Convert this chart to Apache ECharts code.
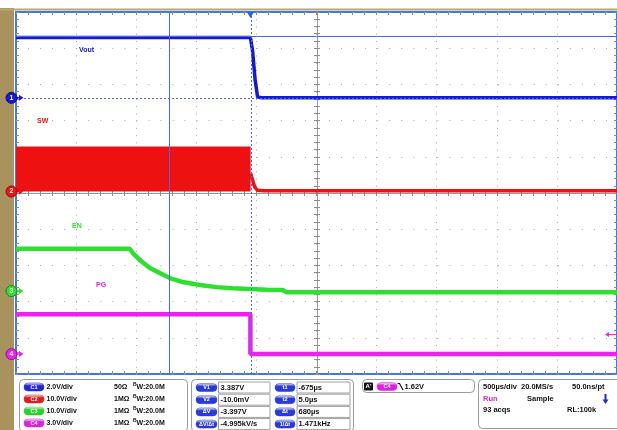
<!DOCTYPE html>
<html><head><meta charset="utf-8">
<script src="https://cdn.jsdelivr.net/npm/echarts@6/dist/echarts.min.js"></script>
<style>html,body{margin:0;padding:0;background:#fff}#c{width:617px;height:430px}</style>
</head><body><div id="c"></div>
<script>
// ---------------- data (time in µs from left screen edge, values in volts) ----------------
const timeRangeUs = [0, 5000];
const usPerDiv = 500;
const triggerUs = 1950;
const cursorT1Us = 1275;   // t1 = -675µs
const cursorT2Us = 1955;   // t2 = 5.0µs
const cursorV1 = 3.387;
const cursorV2 = -0.010;
const triggerLevelV = 1.62;

const channelNames = ['Vout', 'SW', 'EN', 'PG'];
const voltsPerDiv = [2, 10, 10, 3];
const groundDivFromCenter = [2.63, 0.04, -2.71, -4.45];

const voutT = [0, 1950, 1968, 1990, 2010, 2040, 5000];
const voutV = [3.33, 3.33, 2.6, 0.95, 0.05, 0.0, 0.0];

const swBurstT = [0, 1952];
const swBurstV = [12.3, 12.3];
const swTailT = [1953, 1960, 1985, 2010, 2060, 5000];
const swTailV = [5.0, 4.1, 1.3, 0.35, 0.2, 0.2];

const enT = [0, 947, 972, 1030, 1113, 1196, 1279, 1387, 1528, 1669, 1802, 1944, 2085, 2218, 2251, 5000];
const enV = [11.7, 11.7, 10.5, 8.6, 6.4, 5.0, 3.6, 2.5, 1.7, 1.1, 0.8, 0.55, 0.4, 0.3, -0.3, -0.3];

const pgT = [0, 1950, 1950, 5000];
const pgV = [3.31, 3.31, 0.0, 0.0];

const chLabels = ['C1', 'C2', 'C3', 'C4'];
const chScaleText = ['2.0V/div', '10.0V/div', '10.0V/div', '3.0V/div'];
const chImpedance = ['50Ω', '1MΩ', '1MΩ', '1MΩ'];
const chBandwidth = ['W:20.0M', 'W:20.0M', 'W:20.0M', 'W:20.0M'];

const cursorLeftNames = ['V1', 'V2', 'ΔV', 'ΔV/Δt'];
const cursorLeftValues = ['3.387V', '-10.0mV', '-3.397V', '-4.995kV/s'];
const cursorRightNames = ['t1', 't2', 'Δt', '1/Δt'];
const cursorRightValues = ['-675µs', '5.0µs', '680µs', '1.471kHz'];

// ---------------- styling ----------------
const colors = ['#1717dc', '#ee1111', '#2ee02e', '#ee22ee'];
const darkColors = ['#0c0c80', '#8a0a0a', '#138a13', '#8a148a'];
const cursorColor = '#4a68ee';
const tickColor = '#8c8c8c';
const gridDot = '#a8a8a8';
const FONT = "'Liberation Sans', Arial, sans-serif";

const zip = (a, b) => a.map((v, i) => [v, b[i]]);

function axisX(position, extra) {
  return Object.assign({
    type: 'value', gridIndex: 0, position, min: timeRangeUs[0], max: timeRangeUs[1], interval: usPerDiv,
    axisLine: { show: false, onZero: false },
    axisLabel: { show: false },
    axisTick: { show: true, inside: true, length: 3, lineStyle: { color: tickColor } },
    minorTick: { show: true, splitNumber: 5, length: 3, lineStyle: { color: tickColor } },
    splitLine: { show: false }
  }, extra || {});
}
function axisY(position, extra) {
  return Object.assign({
    type: 'value', gridIndex: 0, position, min: -5, max: 5, interval: 1,
    axisLine: { show: false, onZero: false },
    axisLabel: { show: false },
    axisTick: { show: true, inside: true, length: 3, lineStyle: { color: tickColor } },
    minorTick: { show: true, splitNumber: 5, length: 3, lineStyle: { color: tickColor } },
    splitLine: { show: false }
  }, extra || {});
}
const crossLine = { show: true, onZero: false, lineStyle: { color: '#9a9a9a', width: 1 } };

const channelAxes = voltsPerDiv.map((s, i) => ({
  type: 'value', gridIndex: 0, show: false,
  min: -(5 + groundDivFromCenter[i]) * s, max: (5 - groundDivFromCenter[i]) * s
}));

const chart = echarts.init(document.getElementById('c'));
chart.setOption({
  animation: false,
  backgroundColor: '#ffffff',
  grid: { left: 16, top: 12, width: 602, height: 362, show: true, borderColor: '#3f78e0', borderWidth: 2, backgroundColor: '#ffffff' },
  xAxis: [
    axisX('bottom', { splitLine: { show: true, lineStyle: { color: gridDot, width: 1, type: [1, 6.24] } } }),
    axisX('top'),
    axisX('bottom', { offset: -181, axisLine: crossLine, axisTick: { show: true, inside: false, length: 3, lineStyle: { color: tickColor } } }),
    axisX('bottom', { offset: -181 })
  ],
  yAxis: [
    axisY('left', { splitLine: { show: true, lineStyle: { color: gridDot, width: 1, type: [1, 11.04] } } }),
    axisY('right'),
    axisY('left', { offset: -301, axisLine: crossLine, axisTick: { show: true, inside: false, length: 3, lineStyle: { color: tickColor } } }),
    axisY('left', { offset: -301 })
  ].concat(channelAxes),
  series: [
    {
      name: 'SW burst', type: 'line', xAxisIndex: 0, yAxisIndex: 5, data: zip(swBurstT, swBurstV),
      showSymbol: false, lineStyle: { color: colors[1], width: 1 }, areaStyle: { color: colors[1], opacity: 1 }, z: 2
    },
    {
      name: 'SW', type: 'line', xAxisIndex: 0, yAxisIndex: 5, data: zip(swTailT, swTailV),
      showSymbol: false, lineStyle: { color: colors[1], width: 3.5 }, z: 2
    },
    {
      name: 'EN', type: 'line', xAxisIndex: 0, yAxisIndex: 6, data: zip(enT, enV),
      showSymbol: false, lineStyle: { color: colors[2], width: 4.5 }, z: 2
    },
    {
      name: 'PG', type: 'line', xAxisIndex: 0, yAxisIndex: 7, data: zip(pgT, pgV),
      showSymbol: false, lineStyle: { color: colors[3], width: 4.5 }, z: 2
    },
    {
      name: 'Vout', type: 'line', xAxisIndex: 0, yAxisIndex: 4, data: zip(voutT, voutV),
      showSymbol: false, lineStyle: { color: colors[0], width: 3.5 }, z: 3,
      markLine: {
        silent: true, symbol: ['none', 'none'], label: { show: false }, animation: false,
        data: [
          { yAxis: cursorV1, lineStyle: { color: cursorColor, type: 'solid', width: 1 } },
          { yAxis: cursorV2, lineStyle: { color: cursorColor, type: [2, 2], width: 1 } },
          { xAxis: cursorT1Us, lineStyle: { color: cursorColor, type: 'solid', width: 1 } },
          { xAxis: cursorT2Us, lineStyle: { color: cursorColor, type: [2, 2], width: 1 } }
        ]
      }
    }
  ]
});

// ---------------- decorations (positions from the chart's own scales) ----------------
const g = [];
const txt = (x, y, text, fill, size, extra) => g.push(Object.assign({
  type: 'text', x, y, style: { text, fill, font: 'bold ' + size + 'px ' + FONT, textVerticalAlign: 'middle' }, z: 20
}, extra || {}));

// tan frame
g.push({ type: 'rect', shape: { x: 0, y: 8, width: 14, height: 422 }, style: { fill: '#a8925e' }, z: 10 });
g.push({ type: 'rect', shape: { x: 0, y: 8.5, width: 617, height: 2 }, style: { fill: '#b8a674' }, z: 10 });

// channel ground markers
for (let i = 0; i < 4; i++) {
  const y = chart.convertToPixel({ yAxisIndex: 4 + i }, 0);
  g.push({ type: 'polyline', shape: { points: [[16, y], [20, y]] }, style: { stroke: colors[i], lineWidth: 1.5 }, z: 21 });
  g.push({ type: 'polygon', shape: { points: [[19, y - 3], [23.5, y], [19, y + 3]] }, style: { fill: colors[i] }, z: 21 });
  g.push({ type: 'circle', shape: { cx: 11.5, cy: y, r: 5.5 }, style: { fill: colors[i], stroke: darkColors[i], lineWidth: 1 }, z: 21 });
  g.push({ type: 'text', x: 11.5, y: y, style: { text: String(i + 1), fill: '#ffffff', font: 'bold 7px ' + FONT, textAlign: 'center', textVerticalAlign: 'middle' }, z: 22 });
}

// trigger position marker
const trigX = chart.convertToPixel({ xAxisIndex: 0 }, triggerUs);
g.push({ type: 'polygon', shape: { points: [[trigX - 3.5, 12], [trigX + 3.5, 12], [trigX, 18]] }, style: { fill: '#2f5fe0' }, z: 21 });
// trigger level arrow
const trigY = chart.convertToPixel({ yAxisIndex: 7 }, triggerLevelV);
g.push({ type: 'polyline', shape: { points: [[609, trigY], [617, trigY]] }, style: { stroke: colors[3], lineWidth: 1 }, z: 21 });
g.push({ type: 'polygon', shape: { points: [[609, trigY - 2.5], [605, trigY], [609, trigY + 2.5]] }, style: { fill: colors[3] }, z: 21 });

// trace labels
txt(79, 50, channelNames[0], colors[0], 7);
txt(37, 121, channelNames[1], colors[1], 7);
txt(72, 226, channelNames[2], colors[2], 7);
txt(96, 285, channelNames[3], colors[3], 7);

// ---------------- bottom readout panels ----------------
const panel = (x, y, w, h) => g.push({ type: 'rect', shape: { x, y, width: w, height: h, r: 4 }, style: { fill: 'none', stroke: '#9a9a9a', lineWidth: 1 }, z: 15 });
const pill = (x, y, w, color, label) => {
  g.push({ type: 'rect', shape: { x, y: y - 4, width: w, height: 8, r: 4 },
    style: { fill: new echarts.graphic.LinearGradient(0, 0, 0, 1, [{ offset: 0, color: '#ffffff' }, { offset: 0.35, color: color }, { offset: 1, color: color }]), stroke: color, lineWidth: 0.5 }, z: 16 });
  g.push({ type: 'text', x: x + w / 2, y, style: { text: label, fill: '#ffffff', font: 'bold 5.5px ' + FONT, textAlign: 'center', textVerticalAlign: 'middle' }, z: 17 });
};
const box = (x, y, w) => g.push({ type: 'rect', shape: { x, y: y - 5.5, width: w, height: 11 }, style: { fill: '#ffffff', stroke: '#a0a0a0', lineWidth: 1 }, z: 15 });

panel(19.5, 379.5, 168, 52);
panel(191.5, 379.5, 162, 52);
panel(362.5, 379.5, 112, 13);
panel(478.5, 379.5, 150, 49);

const pillColors = ['#2424d8', '#e01c1c', '#28d028', '#e020e0'];
for (let i = 0; i < 4; i++) {
  const y = 387 + 12 * i;
  pill(24, y, 20, pillColors[i], chLabels[i]);
  txt(46.5, y, chScaleText[i], '#111', 7);
  txt(114, y, chImpedance[i], '#111', 7);
  txt(133, y - 2, 'B', '#111', 5);
  txt(136.5, y, chBandwidth[i], '#111', 7);
}
for (let i = 0; i < 4; i++) {
  const y = 387.5 + 12.2 * i;
  pill(196, y, 21, '#2a3ad8', cursorLeftNames[i]);
  box(218.5, y, 51.5);
  txt(220.5, y, cursorLeftValues[i], '#111', 7.5);
  pill(275, y, 20, '#2a3ad8', cursorRightNames[i]);
  box(297, y, 53);
  txt(298.5, y, cursorRightValues[i], '#111', 7.5);
}
// trigger readout
g.push({ type: 'rect', shape: { x: 364, y: 382.5, width: 9, height: 8, r: 1 }, style: { fill: '#111' }, z: 16 });
g.push({ type: 'text', x: 368.5, y: 386.5, style: { text: "A'", fill: '#fff', font: 'bold 6px ' + FONT, textAlign: 'center', textVerticalAlign: 'middle' }, z: 17 });
pill(377, 386.5, 20, '#e020e0', 'C4');
g.push({ type: 'polyline', shape: { points: [[397.5, 383.5], [399.5, 383.5], [403, 390]] }, style: { stroke: '#111', lineWidth: 1.2 }, z: 16 });
txt(404.5, 386.5, '1.62V', '#111', 7.5);

// acquisition readout
txt(483, 387, '500µs/div', '#111', 7.5);
txt(521, 387, '20.0MS/s', '#111', 7.5);
txt(572, 387, '50.0ns/pt', '#111', 7.5);
txt(483, 398.5, 'Run', '#e020e0', 7.5);
txt(527, 398.5, 'Sample', '#111', 7.5);
txt(483, 410, '93 acqs', '#111', 7.5);
txt(567, 410, 'RL:100k', '#111', 7.5);
g.push({ type: 'polyline', shape: { points: [[605.5, 394], [605.5, 400]] }, style: { stroke: '#1a2fbf', lineWidth: 2 }, z: 16 });
g.push({ type: 'polygon', shape: { points: [[602.5, 399.5], [608.5, 399.5], [605.5, 404]] }, style: { fill: '#1a2fbf' }, z: 16 });

chart.setOption({ graphic: { elements: g } });
</script>
</body></html>
